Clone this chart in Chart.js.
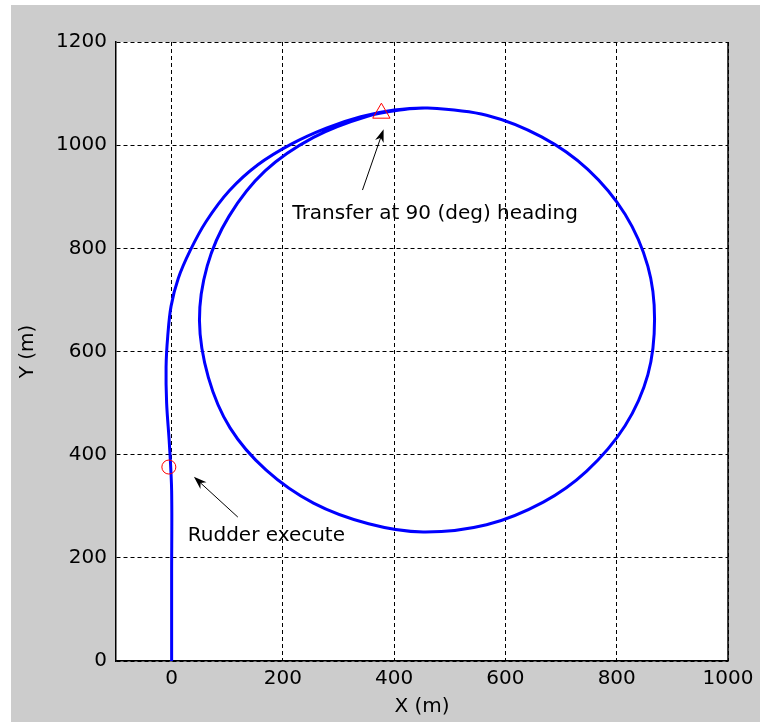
<!DOCTYPE html>
<html>
<head>
<meta charset="utf-8">
<script src="https://cdn.jsdelivr.net/npm/chart.js@4/dist/chart.umd.min.js"></script>
<style>
  body { margin: 0; background: #fff; }
  canvas { display: block; }
</style>
</head>
<body>
<canvas id="turnChart" width="760" height="722"></canvas>
<script>
// ship track during a turning circle manoeuvre (metres)
// approach + first (wider) arc, then the steady turning circle clockwise from the top
var pathX = [0, 0, 0, -4, -9, -10, -7, -1, 12, 33, 62, 104, 155, 215, 278, 340, 400,
  460, 566, 665, 748, 815, 856, 868, 856, 815, 746, 668, 566, 452, 354, 255, 170, 105, 66, 50, 64, 103, 168, 255, 352, 424, 455];
var pathY = [0, 170, 330, 420, 500, 570, 630, 688, 742, 795, 852, 912, 962, 1002, 1033, 1055, 1068,
  1072, 1058, 1016, 953, 866, 765, 663, 555, 456, 368, 308, 264, 250, 266, 306, 370, 452, 550, 660, 766, 862, 950, 1015, 1056, 1070, 1072];

var rudderX = [-5];
var rudderY = [376];
var transferX = [377];
var transferY = [1062];

var xTicks = [0, 200, 400, 600, 800, 1000];
var yTicks = [0, 200, 400, 600, 800, 1000, 1200];

var notes = [
  { text: 'Transfer at 90 (deg) heading', x: 217, y: 866, tail: [343, 913], head: [381, 1031] },
  { text: 'Rudder execute', x: 29, y: 243, tail: [119, 279], head: [40, 357] }
];

var fontFam = '"DejaVu Sans", sans-serif';

var figureBg = {
  id: 'figureBg',
  beforeDraw: function(chart) {
    var ctx = chart.ctx, a = chart.chartArea;
    ctx.save();
    ctx.fillStyle = '#ffffff';
    ctx.fillRect(0, 0, chart.width, chart.height);
    ctx.fillStyle = '#cccccc';
    ctx.fillRect(11, 5, chart.width - 11, chart.height - 5);
    ctx.fillStyle = '#ffffff';
    ctx.fillRect(a.left, a.top, a.right - a.left, a.bottom - a.top);
    ctx.restore();
  },
  beforeDatasetsDraw: function(chart) {
    // solid right edge of the box (top edge stays dashed like the grid)
    var ctx = chart.ctx, a = chart.chartArea;
    ctx.save();
    ctx.strokeStyle = '#000';
    ctx.lineWidth = 1.5;
    ctx.beginPath();
    ctx.moveTo(a.right, a.top);
    ctx.lineTo(a.right, a.bottom);
    ctx.stroke();
    ctx.restore();
  }
};

function drawArrow(ctx, x1, y1, x2, y2) {
  var ang = Math.atan2(y2 - y1, x2 - x1);
  var len = 13, half = 4.5;
  ctx.beginPath();
  ctx.moveTo(x1, y1);
  ctx.lineTo(x2 - Math.cos(ang) * 6, y2 - Math.sin(ang) * 6);
  ctx.stroke();
  ctx.beginPath();
  ctx.moveTo(x2, y2);
  ctx.lineTo(x2 - Math.cos(ang) * len - Math.sin(ang) * half, y2 - Math.sin(ang) * len + Math.cos(ang) * half);
  ctx.lineTo(x2 - Math.cos(ang) * (len - 4), y2 - Math.sin(ang) * (len - 4));
  ctx.lineTo(x2 - Math.cos(ang) * len + Math.sin(ang) * half, y2 - Math.sin(ang) * len - Math.cos(ang) * half);
  ctx.closePath();
  ctx.fill();
}

var annotations = {
  id: 'annotations',
  afterDatasetsDraw: function(chart) {
    var ctx = chart.ctx, sx = chart.scales.x, sy = chart.scales.y;
    ctx.save();
    ctx.fillStyle = '#000';
    ctx.strokeStyle = '#000';
    ctx.lineWidth = 1;
    ctx.font = '20px ' + fontFam;
    ctx.textAlign = 'left';
    ctx.textBaseline = 'middle';
    notes.forEach(function(n) {
      ctx.fillText(n.text, sx.getPixelForValue(n.x), sy.getPixelForValue(n.y));
      drawArrow(ctx,
        sx.getPixelForValue(n.tail[0]), sy.getPixelForValue(n.tail[1]),
        sx.getPixelForValue(n.head[0]), sy.getPixelForValue(n.head[1]));
    });
    ctx.restore();
  }
};

function toPoints(xs, ys) {
  return xs.map(function(x, i) { return { x: x, y: ys[i] }; });
}

function plainTick(v) { return String(v); }

var ctx = document.getElementById('turnChart').getContext('2d');
var chart = new Chart(ctx, {
  type: 'scatter',
  data: {
    datasets: [{
      label: 'Rudder execute',
      data: toPoints(rudderX, rudderY),
      pointStyle: 'circle',
      pointRadius: 7,
      pointBorderColor: '#ff0000',
      pointBackgroundColor: 'rgba(0,0,0,0)',
      pointBorderWidth: 1
    }, {
      label: 'Transfer',
      data: toPoints(transferX, transferY),
      pointStyle: 'triangle',
      pointRadius: 10,
      pointBorderColor: '#ff0000',
      pointBackgroundColor: 'rgba(0,0,0,0)',
      pointBorderWidth: 1
    }, {
      label: 'Track',
      data: toPoints(pathX, pathY),
      showLine: true,
      borderColor: '#0000ff',
      borderWidth: 3,
      pointRadius: 0,
      tension: 0.34
    }]
  },
  options: {
    responsive: false,
    animation: false,
    devicePixelRatio: 1,
    layout: { padding: { left: 0, top: 42, right: 32, bottom: 0 } },
    plugins: {
      legend: { display: false },
      tooltip: { enabled: false }
    },
    scales: {
      x: {
        type: 'linear',
        position: 'bottom',
        min: -100,
        max: 1000,
        afterBuildTicks: function(s) { s.ticks = xTicks.map(function(v) { return { value: v }; }); },
        afterFit: function(s) { s.height = 61; },
        ticks: { font: { family: fontFam, size: 20 }, color: '#000', padding: 6, maxRotation: 0, callback: plainTick },
        grid: { color: '#000', lineWidth: 1, drawTicks: false },
        border: { color: '#000', width: 1.5, dash: [4, 3] },
        title: { display: true, text: 'X (m)', font: { family: fontFam, size: 20 }, color: '#000', padding: { top: 0, bottom: 3 } }
      },
      y: {
        type: 'linear',
        position: 'left',
        min: 0,
        max: 1200,
        afterBuildTicks: function(s) { s.ticks = yTicks.map(function(v) { return { value: v }; }); },
        afterFit: function(s) { s.width = 116; },
        ticks: { font: { family: fontFam, size: 20 }, color: '#000', padding: 9, callback: plainTick },
        grid: { color: '#000', lineWidth: 1, drawTicks: false },
        border: { color: '#000', width: 1.5, dash: [4, 3] },
        title: { display: true, text: 'Y (m)', font: { family: fontFam, size: 20 }, color: '#000', padding: { top: 16, bottom: 0 } }
      }
    }
  },
  plugins: [figureBg, annotations]
});
</script>
</body>
</html>
